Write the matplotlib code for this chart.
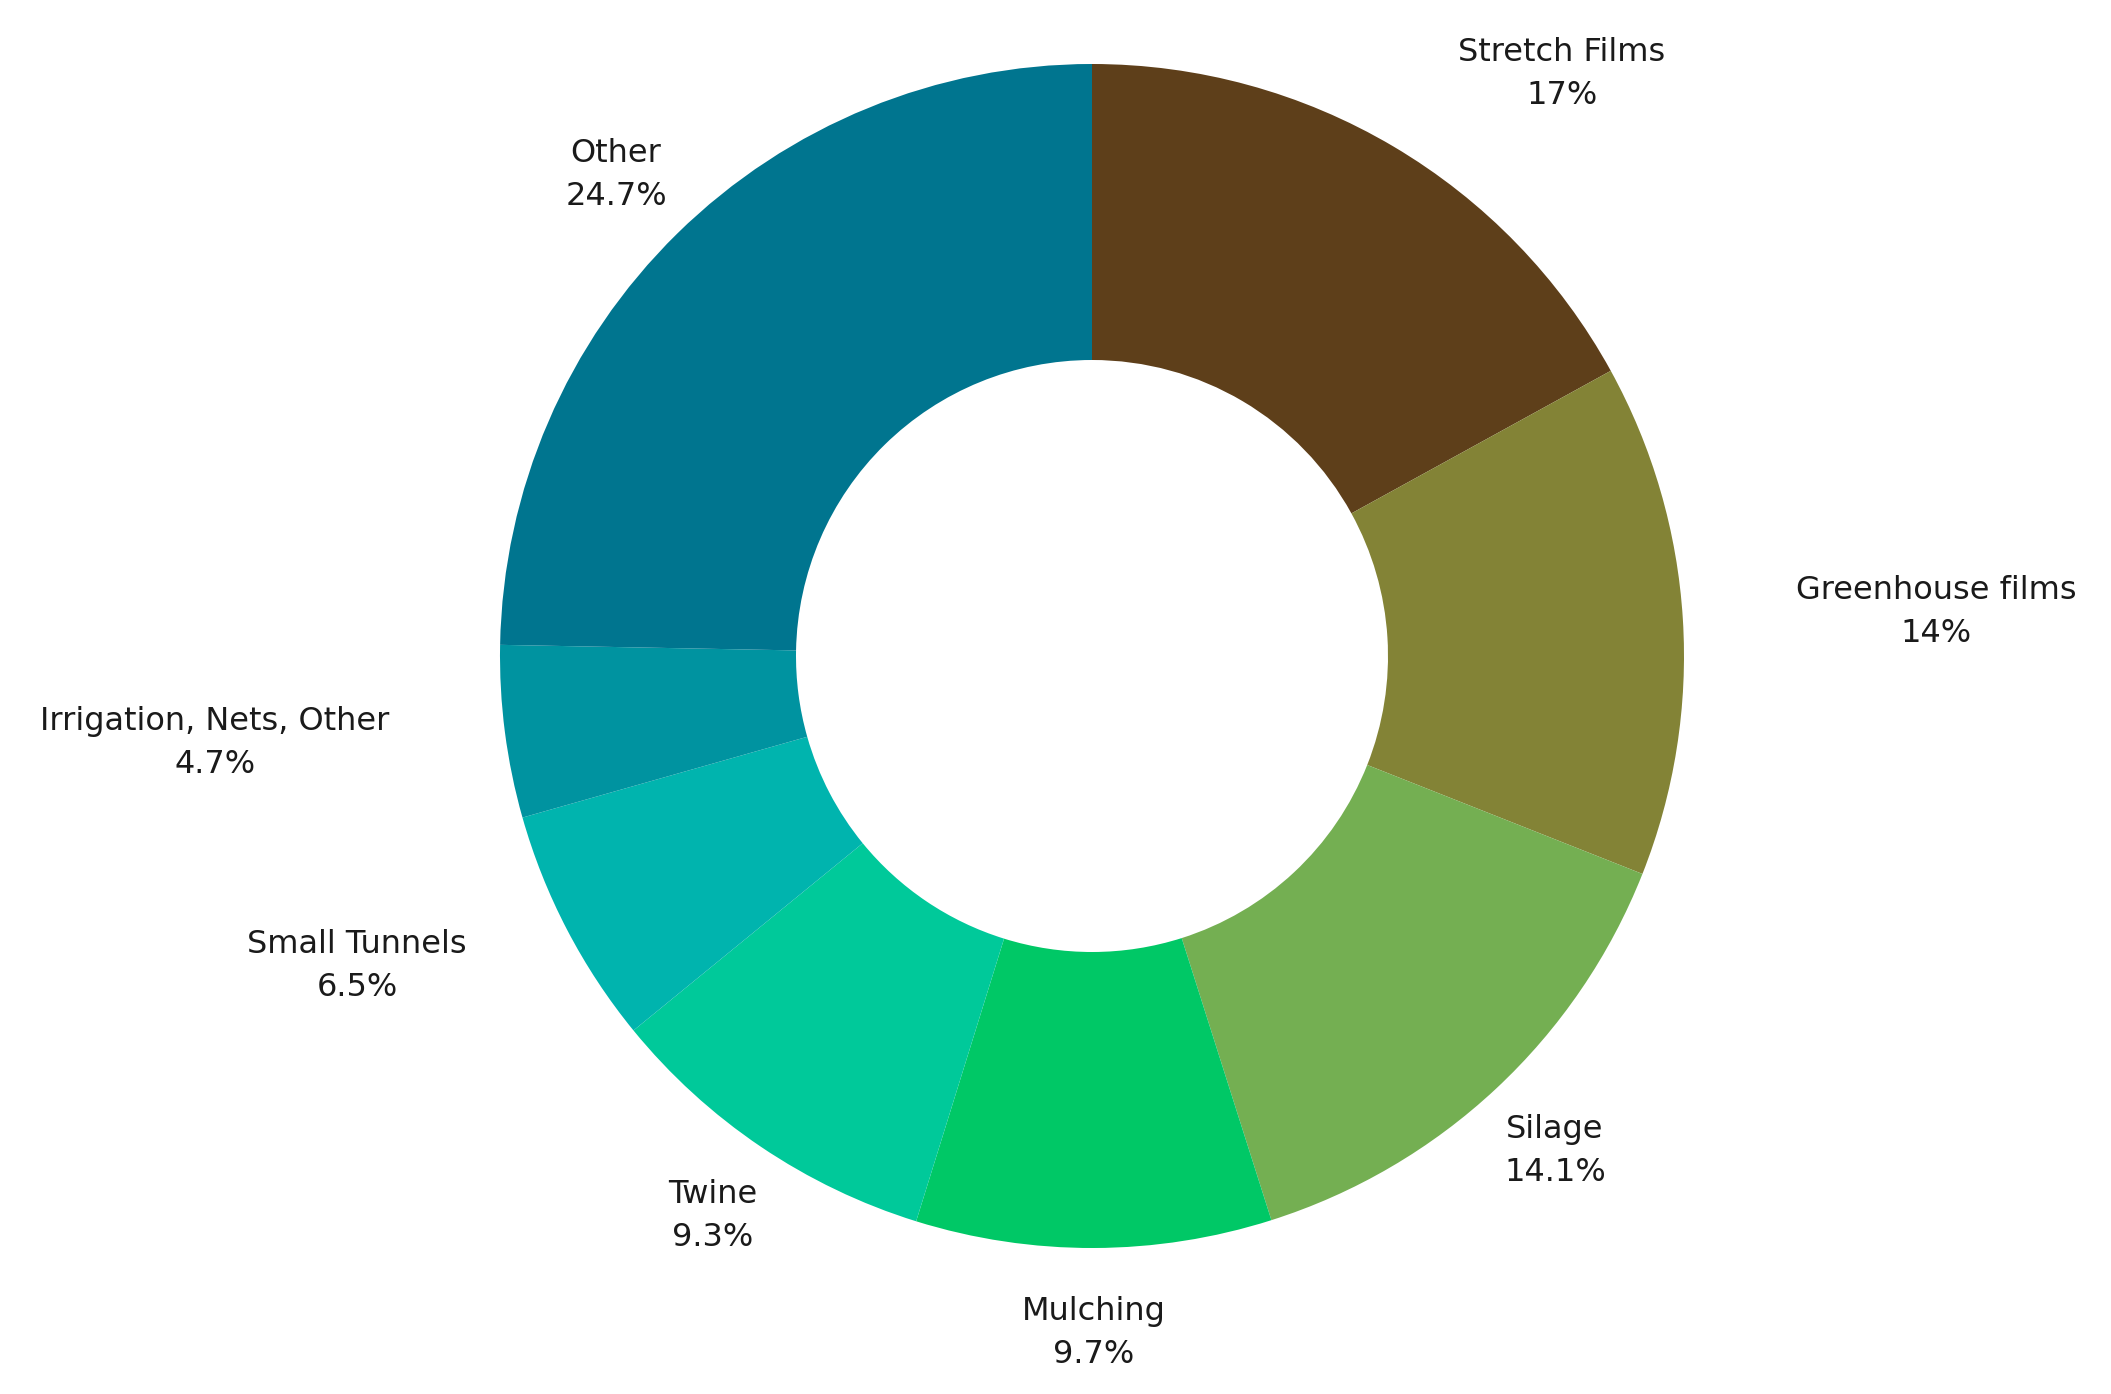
import matplotlib
matplotlib.use("Agg")
import matplotlib.pyplot as plt

categories = ["Stretch Films", "Greenhouse films", "Silage", "Mulching", "Twine",
              "Small Tunnels", "Irrigation, Nets, Other", "Other"]
values = [17, 14, 14.1, 9.7, 9.3, 6.5, 4.7, 24.7]
value_labels = ["17%", "14%", "14.1%", "9.7%", "9.3%", "6.5%", "4.7%", "24.7%"]
colors = ["#5E3F1A", "#838336", "#74AF52", "#00C866", "#00C99A", "#00B4AE", "#0093A0", "#00758F"]
# label centres in pixel coords (x, y from top)
label_pos = [(1562, 74), (1936, 612), (1555, 1151), (1094, 1333), (713, 1216),
             (357, 966), (215, 743), (616, 175)]

W, H = 2111, 1394
fig = plt.figure(figsize=(W / 100, H / 100), dpi=100)
cx, cy, r = 1092, 656, 592
ax = fig.add_axes([(cx - r) / W, (H - cy - r) / H, 2 * r / W, 2 * r / H])
ax.pie(values, colors=colors, startangle=90, counterclock=False,
       radius=1, wedgeprops=dict(width=0.5, edgecolor="none"))
ax.set_xlim(-1, 1); ax.set_ylim(-1, 1)
ax.set_aspect("equal"); ax.axis("off")

for cat, lab, (x, y) in zip(categories, value_labels, label_pos):
    fig.text(x / W, 1 - y / H, f"{cat}\n{lab}", ha="center", va="center",
             fontsize=23, color="#1a1a1a", linespacing=1.5)

fig.savefig("out.png", dpi=100, facecolor="white")
